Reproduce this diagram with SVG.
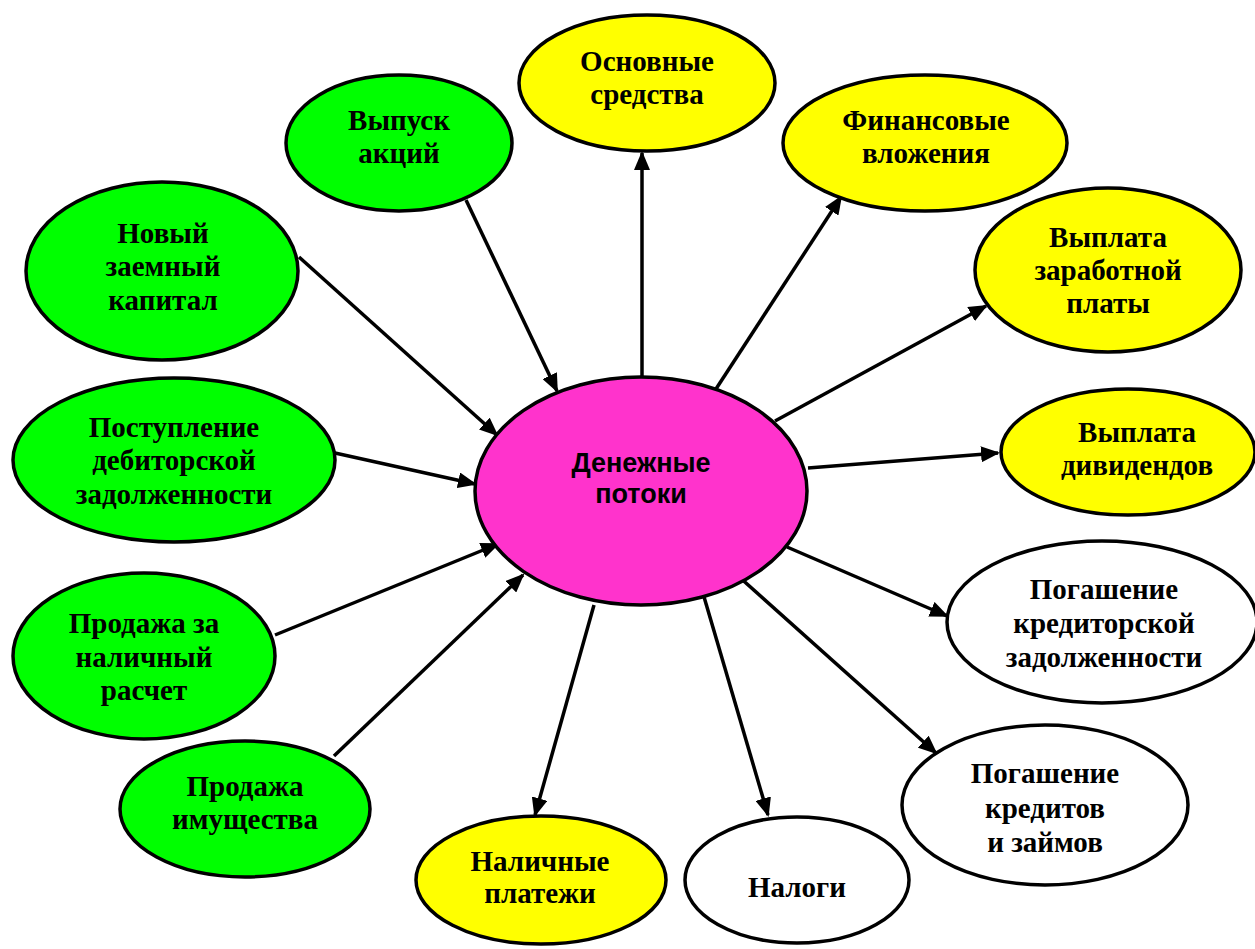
<svg xmlns="http://www.w3.org/2000/svg" width="1255" height="949" viewBox="0 0 1255 949">
<style>
.n{stroke:#000;stroke-width:3.5}
.g{fill:#00FF00}.y{fill:#FFFF00}.w{fill:#FFFFFF}.m{fill:#FF33CC}
.t{font-family:"Liberation Serif","Times New Roman",serif;font-weight:bold;font-size:29px;text-anchor:middle;fill:#000}
.s{font-family:"Liberation Sans",Arial,sans-serif;font-weight:bold;font-size:27px;text-anchor:middle;fill:#000}
.c line{stroke:#000;stroke-width:3.5;marker-end:url(#ah)}
</style>
<defs>
<marker id="ah" markerUnits="userSpaceOnUse" markerWidth="20" markerHeight="16" refX="17" refY="8" orient="auto">
<path d="M0,0 L19,8 L0,16 z" fill="#000"/>
</marker>
</defs>
<rect width="1255" height="949" fill="#fff"/>
<g class="c" id="connectors">
<line x1="299" y1="257" x2="497" y2="435"/>
<line x1="466" y1="200" x2="557" y2="391"/>
<line x1="642" y1="377" x2="642" y2="153"/>
<line x1="714" y1="392" x2="841" y2="197"/>
<line x1="775" y1="421" x2="986" y2="306"/>
<line x1="808" y1="468" x2="998" y2="453"/>
<line x1="787" y1="547" x2="947" y2="616"/>
<line x1="737" y1="575" x2="936" y2="753"/>
<line x1="702" y1="590" x2="768" y2="815"/>
<line x1="594" y1="605" x2="535" y2="815"/>
<line x1="334" y1="756" x2="523" y2="575"/>
<line x1="275" y1="635" x2="498" y2="544"/>
<line x1="335" y1="453" x2="475" y2="484"/>
</g>
<g id="center"><ellipse class="n m" cx="641" cy="491" rx="166" ry="114"/><text class="s" x="641" y="472">Денежные</text><text class="s" x="641" y="503">потоки</text></g>
<g id="novyj"><ellipse class="n g" cx="162" cy="271" rx="136" ry="89"/><text class="t" x="163" y="243">Новый</text><text class="t" x="163" y="276">заемный</text><text class="t" x="163" y="310">капитал</text></g>
<g id="vypusk"><ellipse class="n g" cx="399" cy="143" rx="113" ry="68"/><text class="t" x="399" y="130">Выпуск</text><text class="t" x="399" y="163">акций</text></g>
<g id="osnovnye"><ellipse class="n y" cx="647" cy="83" rx="128" ry="68"/><text class="t" x="647" y="71">Основные</text><text class="t" x="647" y="104">средства</text></g>
<g id="finans"><ellipse class="n y" cx="925" cy="143" rx="142" ry="68"/><text class="t" x="926" y="130">Финансовые</text><text class="t" x="926" y="163">вложения</text></g>
<g id="zarplata"><ellipse class="n y" cx="1108" cy="270" rx="133" ry="82"/><text class="t" x="1108" y="247">Выплата</text><text class="t" x="1108" y="280">заработной</text><text class="t" x="1108" y="313">платы</text></g>
<g id="postuplenie"><ellipse class="n g" cx="174" cy="460" rx="161" ry="82"/><text class="t" x="174" y="437">Поступление</text><text class="t" x="174" y="470">дебиторской</text><text class="t" x="174" y="504">задолженности</text></g>
<g id="dividendy"><ellipse class="n y" cx="1128" cy="452" rx="127" ry="63"/><text class="t" x="1137" y="442">Выплата</text><text class="t" x="1137" y="475">дивидендов</text></g>
<g id="prodazha-nal"><ellipse class="n g" cx="144" cy="656" rx="131" ry="83"/><text class="t" x="144" y="633">Продажа за</text><text class="t" x="144" y="667">наличный</text><text class="t" x="144" y="700">расчет</text></g>
<g id="kreditorskaya"><ellipse class="n w" cx="1102" cy="622" rx="155" ry="81"/><text class="t" x="1104" y="599">Погашение</text><text class="t" x="1104" y="633">кредиторской</text><text class="t" x="1104" y="667">задолженности</text></g>
<g id="prodazha-im"><ellipse class="n g" cx="245" cy="809" rx="125" ry="68"/><text class="t" x="245" y="796">Продажа</text><text class="t" x="245" y="829">имущества</text></g>
<g id="kredity"><ellipse class="n w" cx="1045" cy="805" rx="143" ry="80"/><text class="t" x="1045" y="783">Погашение</text><text class="t" x="1045" y="818">кредитов</text><text class="t" x="1045" y="852">и займов</text></g>
<g id="nalichnye"><ellipse class="n y" cx="541" cy="880" rx="125" ry="64"/><text class="t" x="540" y="871">Наличные</text><text class="t" x="540" y="903">платежи</text></g>
<g id="nalogi"><ellipse class="n w" cx="797" cy="880" rx="112" ry="63"/><text class="t" x="797" y="897">Налоги</text></g>
</svg>
